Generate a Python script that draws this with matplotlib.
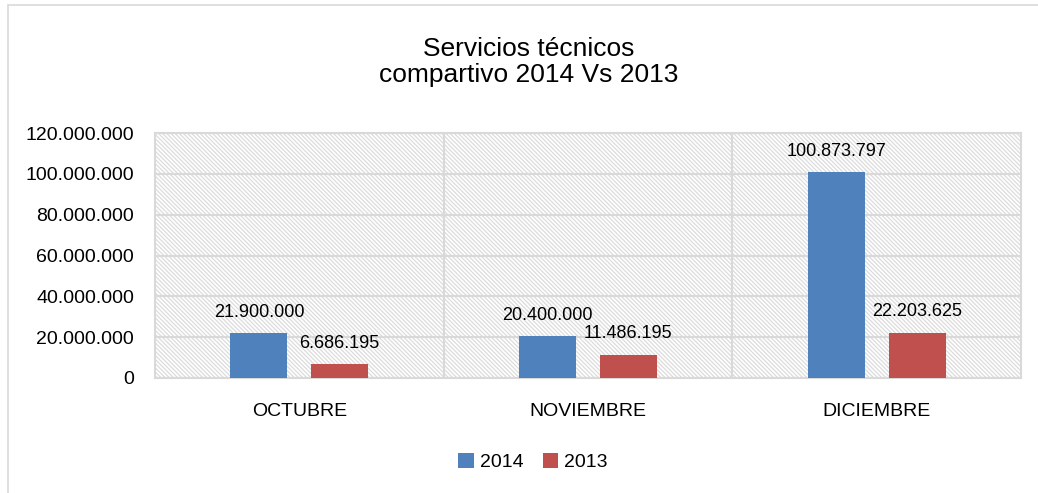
import matplotlib
matplotlib.use("Agg")
import matplotlib.pyplot as plt
from matplotlib.patches import Rectangle
from matplotlib.ticker import FuncFormatter
import numpy as np

plt.rcParams['font.family'] = ['Liberation Sans', 'DejaVu Sans']
plt.rcParams['hatch.color'] = '#dcdcdc'
plt.rcParams['hatch.linewidth'] = 0.9

categories = ['OCTUBRE', 'NOVIEMBRE', 'DICIEMBRE']
series_names = ['2014', '2013']
values_2014 = [21900000, 20400000, 100873797]
values_2013 = [6686195, 11486195, 22203625]
colors = ['#4f81bd', '#c0504d']
title_text = 'Servicios técnicos\ncompartivo 2014 Vs 2013'

def fmt(v):
    return f"{int(round(v)):,}".replace(',', '.')

W, H = 1038, 493
fig = plt.figure(figsize=(W / 100, H / 100), dpi=100)
fig.patch.set_facecolor('white')

# outer chart frame
fig.add_artist(Rectangle((8 / W, -0.05), 1.1, 1 - 5 / H + 0.05, transform=fig.transFigure,
                         fill=False, edgecolor='#d9d9d9', linewidth=1.2))

ax = fig.add_axes([155 / W, 1 - 378 / H, (1021 - 155) / W, (378 - 133) / H])
ax.set_facecolor('white')
ax.add_patch(Rectangle((0, 0), 1, 1, transform=ax.transAxes, facecolor='white',
                       hatch='\\' * 8, edgecolor='#dcdcdc', linewidth=0, zorder=0))

x = np.arange(len(categories))
bw = 0.197
off = 0.14
b1 = ax.bar(x - off, values_2014, bw, color=colors[0], label=series_names[0], zorder=3)
b2 = ax.bar(x + off, values_2013, bw, color=colors[1], label=series_names[1], zorder=3)

for bars, vals in ((b1, values_2014), (b2, values_2013)):
    ax.bar_label(bars, labels=[fmt(v) for v in vals], padding=9, fontsize=13, color='#000000')

ax.set_xlim(-0.5, len(categories) - 0.5)
ax.set_ylim(0, 120000000)
ax.set_yticks(np.arange(0, 120000001, 20000000))
ax.yaxis.set_major_formatter(FuncFormatter(lambda v, p: fmt(v)))
ax.set_xticks(x)
ax.set_xticklabels(categories)
ax.tick_params(axis='both', length=0, labelsize=14, colors='#000000')
ax.tick_params(axis='y', pad=15)
ax.tick_params(axis='x', pad=18)

ax.grid(axis='y', color='#d9d9d9', linewidth=1.5, zorder=1)
for b in (0.5, 1.5):
    ax.axvline(b, color='#d9d9d9', linewidth=1.5, zorder=1)
ax.set_axisbelow(True)
for s in ax.spines.values():
    s.set_color('#d9d9d9')
    s.set_linewidth(1.5)

fig.text(529 / W, 1 - 62 / H, title_text, ha='center', va='center', fontsize=19,
         linespacing=1.15)

leg = fig.legend(handles=[b1, b2], labels=series_names, loc='center',
                 bbox_to_anchor=(533 / W, 1 - 462 / H), ncol=2, frameon=False,
                 fontsize=14, handlelength=0.8, handleheight=0.8, handletextpad=0.3,
                 columnspacing=1.0)

fig.savefig('out.png', dpi=100, facecolor='white')
